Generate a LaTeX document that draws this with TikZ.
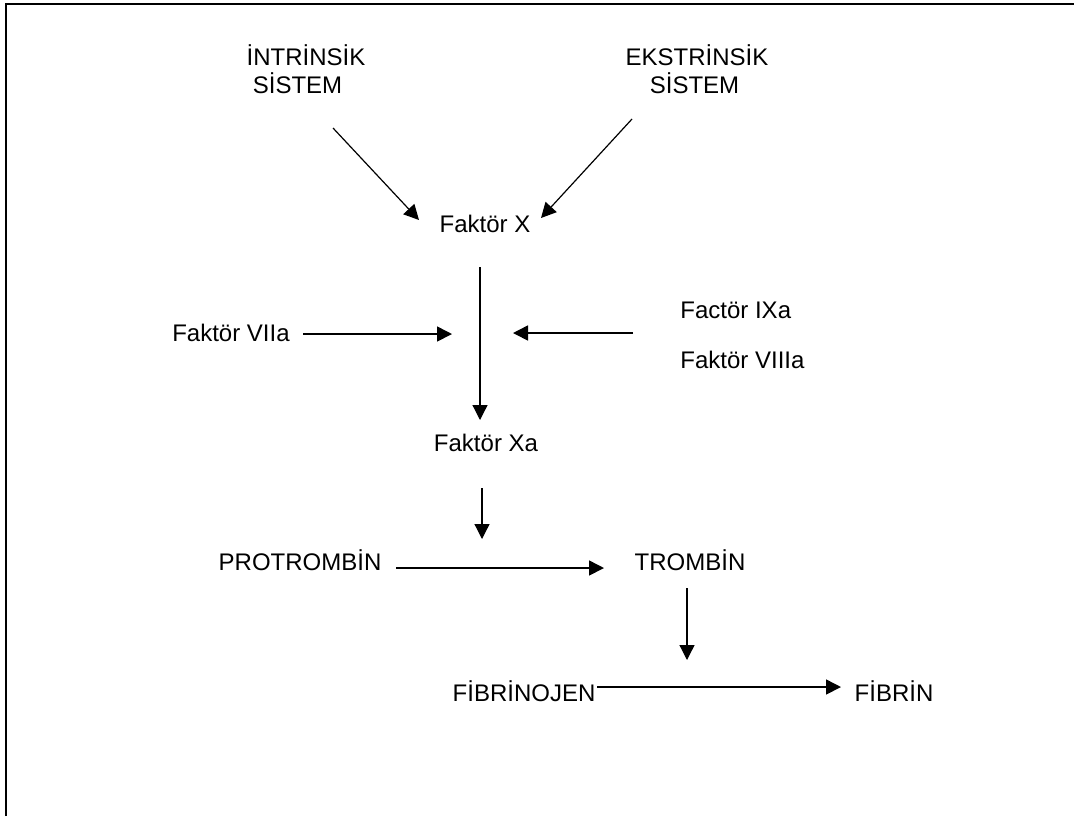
\documentclass[tikz,border=0pt]{standalone}
\usepackage{fontspec}
\setmainfont{Liberation Sans}
\usetikzlibrary{arrows.meta}
\begin{document}
\begin{tikzpicture}[x=0.5pt,y=-0.5pt,
  lbl/.style={inner sep=0pt, font=\fontsize{12pt}{14pt}\selectfont, anchor=base},
  arr/.style={-{Triangle[length=7.5pt,width=7.5pt]}, line width=0.6pt},
  harr/.style={arr, line width=0.8pt},
  frame/.style={line width=1pt}]
\useasboundingbox (0,0) rectangle (1074,816);
\draw[frame] (6,816) -- (6,4) -- (1074,4);

% texts
\node[lbl] (intr1) at (306,65.6) {İNTRİNSİK};
\node[lbl] (intr2) at (297.5,93.6) {SİSTEM};
\node[lbl] (ekst1) at (697,65.6) {EKSTRİNSİK};
\node[lbl] (ekst2) at (694.5,93.6) {SİSTEM};
\node[lbl] (fx) at (485,232.6) {Faktör X};
\node[lbl] (f7) at (231,341.6) {Faktör VIIa};
\node[lbl,anchor=base west] (f9) at (680,318.6) {Factör IXa};
\node[lbl,anchor=base west] (f8) at (680,368.6) {Faktör VIIIa};
\node[lbl] (fxa) at (486,451.6) {Faktör Xa};
\node[lbl] (pro) at (300,570.6) {PROTROMBİN};
\node[lbl] (tro) at (690,570.6) {TROMBİN};
\node[lbl] (fbn) at (524,701.6) {FİBRİNOJEN};
\node[lbl] (fb) at (894,701.6) {FİBRİN};

% connector end points
\coordinate (a1s) at (333,128);  \coordinate (a1e) at (419,220);
\coordinate (a2s) at (632,119);  \coordinate (a2e) at (541,218);
\coordinate (vs) at (480,267);   \coordinate (ve) at (480,420);
\coordinate (ls) at (303,334);   \coordinate (le) at (452,334);
\coordinate (rs) at (633,333);   \coordinate (re) at (513,333);
\coordinate (ss) at (482,488);   \coordinate (se) at (482,539);
\coordinate (ps) at (396,568);   \coordinate (pe) at (604,568);
\coordinate (ts) at (687,588);   \coordinate (te) at (687,660);
\coordinate (bs) at (597,687);   \coordinate (be) at (841,687);

\draw[arr] (a1s) -- (a1e);
\draw[arr] (a2s) -- (a2e);
\draw[arr] (vs) -- (ve);
\draw[harr] (ls) -- (le);
\draw[harr] (rs) -- (re);
\draw[arr] (ss) -- (se);
\draw[harr] (ps) -- (pe);
\draw[arr] (ts) -- (te);
\draw[harr] (bs) -- (be);
\end{tikzpicture}
\end{document}
